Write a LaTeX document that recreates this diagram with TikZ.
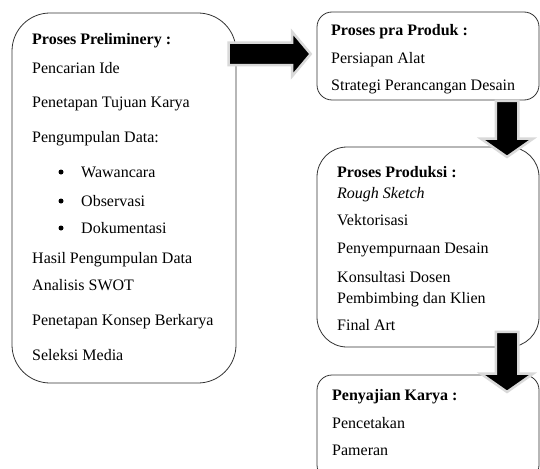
\documentclass[tikz,border=0pt]{standalone}
\usepackage{fontspec}
\setmainfont{Liberation Serif}
\usetikzlibrary{shapes.arrows}

\begin{document}
\begin{tikzpicture}
[x=1pt,y=-1pt,every node/.style={inner sep=0pt,font=\fontsize{16}{19}\selectfont},
 box/.style={rectangle,draw=black!80,line width=0.8pt,fill=white},
 line/.style={anchor=base west},
 heading/.style={anchor=base west,font=\fontsize{16}{19}\selectfont\bfseries},
 bullet/.style={circle,fill=black,minimum size=5pt},
 bigarrow/.style={single arrow,fill=black,draw=black!15,line width=2.5pt,inner sep=10pt,
   single arrow head extend=11pt,single arrow tip angle=100}]

  \useasboundingbox (0,0) rectangle (540,468);
  \clip (0,0) rectangle (540,468);

  % boxes
  \node[box,minimum width=224pt,minimum height=370pt,rounded corners=38pt] (prelim) at (124,198) {};
  \node[box,minimum width=222pt,minimum height=88pt,rounded corners=15pt] (praproduk) at (428,56) {};
  \node[box,minimum width=222pt,minimum height=200pt,rounded corners=30pt] (produksi) at (428,247) {};
  \node[box,minimum width=222pt,minimum height=105pt,rounded corners=15pt] (penyajian) at (428,427.5) {};

  % arrows
  \node[bigarrow,minimum height=82pt] (arrA) at (265,54) {};
  \node[bigarrow,rotate=-90,minimum height=56pt,single arrow head extend=15pt,single arrow tip angle=110] (arrB) at (507,125) {};
  \node[bigarrow,rotate=-90,minimum height=60pt,single arrow head extend=15pt,single arrow tip angle=110] (arrC) at (507,358) {};

  % preliminery
  \node[heading] (prelimT) at (32,45) {Proses Preliminery :};
  \foreach \y/\txt [count=\i] in {74/Pencarian Ide, 108/Penetapan Tujuan Karya, 142/Pengumpulan Data:,
      263/Hasil Pengumpulan Data, 290/Analisis SWOT, 325/Penetapan Konsep Berkarya, 360/Seleksi Media}
    \node[line] (pre\i) at (32,\y) {\txt};
  \foreach \y/\txt [count=\i] in {177/Wawancara, 206/Observasi, 233/Dokumentasi}{
    \node[bullet] (dot\i) at (61,\y-5) {};
    \node[line] (sub\i) at (81,\y) {\txt};
  }

  % pra produk
  \node[heading] (praT) at (331,36) {Proses pra Produk :};
  \foreach \y/\txt [count=\i] in {64/Persiapan Alat, 91/Strategi Perancangan Desain}
    \node[line] (pra\i) at (331,\y) {\txt};

  % produksi
  \node[heading] (prodT) at (337,177) {Proses Produksi :};
  \foreach \y/\txt [count=\i] in {198/\textit{Rough Sketch}, 225/Vektorisasi, 253/Penyempurnaan Desain,
      282/Konsultasi Dosen, 303/Pembimbing dan Klien, 330/Final Art}
    \node[line] (prod\i) at (337,\y) {\txt};

  % penyajian
  \node[heading] (sajiT) at (332,400) {Penyajian Karya :};
  \foreach \y/\txt [count=\i] in {428/Pencetakan, 455/Pameran}
    \node[line] (saji\i) at (332,\y) {\txt};

\end{tikzpicture}
\end{document}
